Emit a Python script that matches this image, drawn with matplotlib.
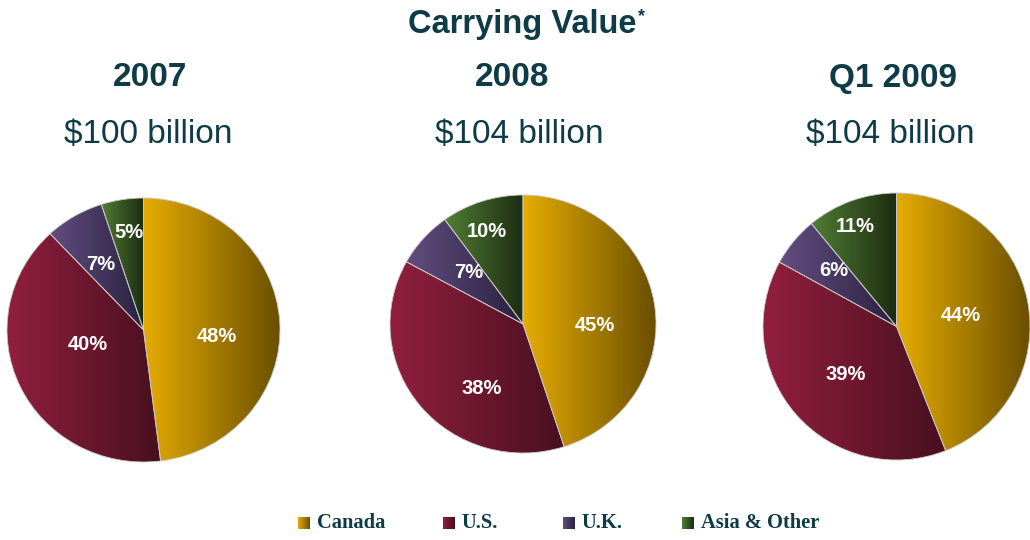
import numpy as np
import matplotlib
matplotlib.use("Agg")
import matplotlib.pyplot as plt
from matplotlib.colors import LinearSegmentedColormap

# Data
categories = ["Canada", "U.S.", "U.K.", "Asia & Other"]
periods = ["2007", "2008", "Q1 2009"]
totals = ["$100 billion", "$104 billion", "$104 billion"]
share_2007 = [48, 40, 7, 5]
share_2008 = [45, 38, 7, 10]
share_q1_2009 = [44, 39, 6, 11]
shares = [share_2007, share_2008, share_q1_2009]

# Light -> dark horizontal gradients for each category
gradients = [
    ("#E6AC00", "#6A4F00"),
    ("#921F3F", "#48101F"),
    ("#624E80", "#2A213F"),
    ("#527D33", "#1C2C12"),
]
cmaps = [LinearSegmentedColormap.from_list(f"g{i}", g) for i, g in enumerate(gradients)]
grad = np.linspace(0, 1, 256).reshape(1, -1)

TEXT = "#0E3B46"
W, H = 1030, 540
fig = plt.figure(figsize=(W / 100, H / 100), dpi=100)

# pie bounding boxes in pixels: left, right, top, bottom
boxes = [(7, 280, 198, 462), (390, 656, 195, 453), (763, 1030, 193, 460)]
# label anchor points inside each pie, in unit-radius coordinates
label_xy = [
    [(0.54, -0.05), (-0.41, -0.11), (-0.315, 0.50), (-0.11, 0.74)],
    [(0.54, -0.01), (-0.31, -0.50), (-0.41, 0.40), (-0.27, 0.72)],
    [(0.48, 0.08), (-0.38, -0.36), (-0.47, 0.42), (-0.31, 0.75)],
]

for vals, box, lxy in zip(shares, boxes, label_xy):
    l, r, t, b = box
    ax = fig.add_axes([l / W, 1 - b / H, (r - l) / W, (b - t) / H])
    wedges, _ = ax.pie(vals, startangle=90, counterclock=False,
                       wedgeprops=dict(edgecolor="#c8c8c8", linewidth=0.6))
    ax.set_xlim(-1, 1)
    ax.set_ylim(-1, 1)
    ax.set_aspect("auto")
    ax.axis("off")
    for w, cmap in zip(wedges, cmaps):
        ext = w.get_path().get_extents()
        im = ax.imshow(grad, cmap=cmap, aspect="auto", interpolation="bilinear",
                       extent=[ext.x0, ext.x1, ext.y0, ext.y1], zorder=1)
        im.set_clip_path(w)
        w.set_facecolor("none")
        w.set_zorder(2)
    ax.set_xlim(-1, 1)
    ax.set_ylim(-1, 1)
    for v, (lx, ly) in zip(vals, lxy):
        ax.text(lx, ly, f"{v}%", ha="center", va="center",
                color="white", fontsize=14.5, fontweight="bold",
                family="Liberation Sans", zorder=3)

# Overlay for titles and legend, in pixel coordinates
ov = fig.add_axes([0, 0, 1, 1], zorder=5)
ov.set_xlim(0, W)
ov.set_ylim(H, 0)
ov.axis("off")
ov.patch.set_alpha(0)

ov.text(522, 25, "Carrying Value", ha="center", va="center", fontsize=23.5,
        fontweight="bold", color=TEXT, family="Liberation Sans")
ov.text(642, 17, "*", ha="center", va="center", fontsize=13, fontweight="bold",
        color=TEXT, family="Liberation Sans")

xs_period = [150, 512, 893]
xs_total = [148, 519, 890]
for p, tot, xp, xt in zip(periods, totals, xs_period, xs_total):
    ov.text(xp, 78, p, ha="center", va="center", fontsize=24, fontweight="bold",
            color=TEXT, family="Liberation Sans")
    ov.text(xt, 134, tot, ha="center", va="center", fontsize=24,
            color=TEXT, family="Liberation Sans")

leg_x = [298, 443, 563, 682]
for cat, cmap, x in zip(categories, cmaps, leg_x):
    ov.imshow(grad, cmap=cmap, aspect="auto", extent=[x, x + 12, 529, 517], zorder=2)
    ov.text(x + 19, 523, cat, ha="left", va="center", fontsize=14.8, fontweight="bold",
            color=TEXT, family="Liberation Serif")
ov.set_xlim(0, W)
ov.set_ylim(H, 0)

fig.savefig("out.png", dpi=100, facecolor="white")
